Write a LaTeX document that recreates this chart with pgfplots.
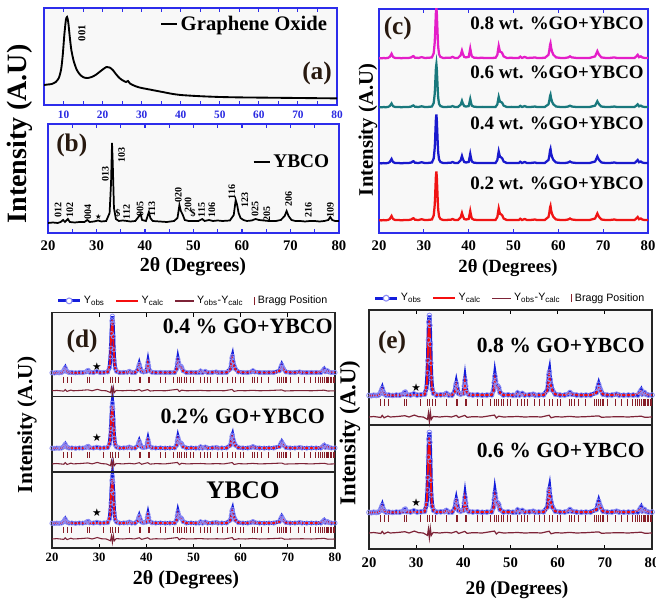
\documentclass[border=0pt]{standalone}
\usepackage{fontspec}
\setmainfont{Liberation Serif}
\setsansfont{Liberation Sans}
\newfontfamily\dejavu{DejaVu Sans}
\usepackage{pgfplots}
\usepackage{pgfplotstable}
\pgfplotsset{compat=1.18}

\definecolor{frameblue}{RGB}{45,45,235}
\definecolor{tickblue}{RGB}{40,40,225}
\definecolor{cmag}{RGB}{228,30,200}
\definecolor{cteal}{RGB}{25,120,125}
\definecolor{cblue}{RGB}{25,25,205}
\definecolor{cred}{RGB}{240,20,20}
\definecolor{obsc}{RGB}{20,30,220}
\definecolor{obsl}{RGB}{140,140,245}
\definecolor{calcc}{RGB}{245,15,15}
\definecolor{diffc}{RGB}{125,35,55}
\definecolor{braggc}{RGB}{135,30,40}
\definecolor{bgc}{RGB}{248,248,248}
\definecolor{lettc}{RGB}{40,25,15}

% Graphene oxide pattern (a) -- y in px above frame bottom
\pgfplotstableread{
x y
5 20
6 20.5
7 21
8 23
8.8 27
9.4 36
9.8 50
10.2 70
10.6 85
10.9 88
11.2 83
11.6 68
12.0 55
12.6 44
13.4 35
14.3 30
15.2 27.5
16.2 27
17.2 28
18.2 30
19.2 33
20.2 36
21.0 38
21.8 37.5
22.6 35
23.4 31
24.3 27
25.2 24.5
26.0 23
26.5 24
27.0 21.5
28.0 19.5
29.0 18
30.0 17
32.0 15.5
34.0 14
36.0 12.5
38.0 11
40.0 10
43.0 9.2
46.0 8.6
50.0 8
55.0 7.6
60.0 7.4
65.0 7.2
70.0 7
75.0 6.8
80.0 6.6
}\gotab

% YBCO pattern (b) -- y in px above frame bottom
\pgfplotstableread{
x y
20 10
21 10.5
22 10
22.6 11
23.1 13
23.5 11
24.1 14
24.5 11
25.5 10.5
26.5 11
27.5 11
28.1 13
28.6 11
29.5 11.5
30.3 12.5
31.0 11.5
32.0 12
32.7 20
33.0 50
33.2 90
33.35 70
33.6 25
34.0 14
34.6 12
35.4 12.5
36.3 12
37.0 11.5
38.0 12
38.8 17
39.1 19
39.4 13
40.2 12
40.8 21
41.1 15
41.6 12
43.0 11.5
44.5 11
46.0 12
46.7 15
47.1 28
47.4 22
47.8 18
48.2 13
49.0 12
50.0 12
51.0 12
51.8 14
52.3 12
53.2 13
54.0 12
55.0 12.5
56.0 12
57.5 12.5
58.3 18
58.7 33
59.0 28
59.3 20
59.7 15
60.3 13
61.0 12
62.0 12.5
62.8 14
63.5 13
64.5 12.5
65.5 12
67.0 12
68.0 13
68.8 17
69.2 22
69.6 17
70.2 13
71.0 12
72.0 12
73.0 11.5
74.0 12
75.0 12
76.0 11.5
77.0 12
77.8 13
78.2 16
78.6 13
79.2 12
80.0 12
}\ybtab

% normalised YBCO observed pattern (main peak = 100)
\pgfplotstableread{
x y
20.0 2.5
20.5 2.2
21.0 2.8
21.5 2.5
22.0 3
22.4 5
22.6 8
22.8 11
23.0 7
23.2 4.5
23.6 3
24.2 3
25.0 2.5
25.8 3
26.5 2.8
27.2 4
27.5 6
27.7 6.5
28.0 3.5
28.8 3
29.5 4.5
30.2 3
31.0 3.2
31.8 4
32.2 12
32.4 30
32.5 45
32.6 70
32.7 92
32.8 100
32.9 88
33.0 65
33.1 42
33.2 24
33.4 10
33.7 5
34.3 3
35.2 3.2
36.0 3.5
36.4 5
36.9 3
37.6 3
38.2 8
38.4 14
38.5 17
38.7 11
39.0 5
39.4 4
40.0 5
40.2 14
40.35 21
40.5 14
40.7 6
41.2 3.5
42.0 3
43.0 3.2
44.0 2.8
45.0 3
46.0 3.2
46.4 9
46.55 18
46.7 26
46.85 20
47.0 15
47.3 14
47.5 12
47.8 6
48.5 3
49.5 3.2
50.5 2.8
51.2 3
51.5 5.5
51.9 3
52.5 5
53.0 3
54.0 3.2
54.8 4
55.2 3
56.0 3
57.0 3.2
57.8 9
58.0 18
58.15 28
58.25 31
58.4 22
58.6 15
58.9 9
59.5 4
60.5 3
61.5 3
62.2 4
62.6 6
63.0 4
64.0 3
65.0 2.8
66.0 3
67.0 3
68.2 6
68.5 12
68.7 16
68.9 12
69.1 9
69.6 4
70.5 3
71.5 3
72.5 4
73.0 3
74.0 2.8
75.0 3
76.0 3
77.0 3
77.4 6
77.7 9
78.0 4.5
78.4 6
78.7 4
79.2 3
80.0 3
}\yobs

% calculated pattern (normalised)
\pgfplotstableread{
x y
20.0 2.3
21.0 2.4
22.0 2.6
22.4 4
22.8 9.5
23.2 4
23.6 3
24.2 2.8
25.0 2.6
26.5 2.7
27.2 3.5
27.6 5.5
28.0 3.3
29.5 3
31.0 3
31.8 3.5
32.3 18
32.6 78
32.8 94
33.0 58
33.3 14
33.7 5
34.3 3
36.0 3.2
36.4 4.5
36.9 3
37.6 3
38.2 6.5
38.5 15
38.8 7.5
39.4 3.8
40.0 4.5
40.3 19
40.6 7.5
41.2 3.4
43.0 3
45.0 3
46.0 3
46.4 7.5
46.7 22
47.0 13
47.4 12
47.8 5.5
48.5 3
50.5 2.8
51.5 4.8
51.9 3
52.5 4.5
53.0 3
54.8 3.7
55.2 3
57.0 3
57.8 7.5
58.2 27
58.5 16
58.9 8
59.5 3.8
61.5 3
62.6 5.5
63.0 3.8
65.0 2.8
67.0 3
68.2 5.5
68.7 14
69.1 8
69.6 3.8
71.5 3
72.5 3.6
74.0 2.8
76.0 3
77.4 5.5
77.7 7.5
78.0 4.2
78.4 5.5
78.7 3.8
80.0 3
}\ycalc

% difference curve
\pgfplotstableread{
x y
20 0
21 0.3
22.5 -0.3
22.8 1
23.2 -0.5
24 0.6
24.5 0
26 0.3
27.6 0.8
28.5 0
29.6 1.2
30.5 0.2
31.5 0
32.4 -1.5
32.6 2.5
32.8 -3
33.0 3
33.2 -1.5
33.6 0.3
35 0
36.4 0.4
37.5 0
38.5 1
39 -0.3
40.3 1
40.8 -0.2
42 0.2
44 0
46.6 1.2
47.0 -0.6
47.5 0.5
48.5 0
51.5 0.3
53 0
55 0.2
56.5 0
58.2 1.1
58.6 -0.5
59.5 0.2
61 0
62.5 0.4
64 0
66 0.2
68.7 0.7
69.3 -0.2
70.5 0
73 0.2
75 0
77.7 0.5
78.5 -0.2
80 0
}\ydiff

% Bragg positions (x) with zero offset column
\pgfplotstableread{
x y
22.5 0
23.2 0
24.2 0
27.6 0
27.9 0
30.9 0
32.5 0
32.8 0
33.4 0
34.0 0
36.4 0
38.5 0
38.7 0
40.4 0
40.6 0
42.9 0
44.0 0
45.7 0
46.6 0
47.1 0
47.5 0
48.0 0
48.6 0
49.3 0
49.9 0
51.4 0
52.4 0
52.9 0
53.5 0
55.0 0
56.1 0
57.1 0
58.2 0
58.8 0
59.9 0
60.5 0
62.4 0
62.9 0
63.5 0
64.5 0
65.8 0
67.7 0
68.3 0
68.7 0
69.0 0
69.4 0
69.8 0
70.5 0
72.2 0
73.6 0
74.7 0
75.8 0
76.4 0
77.0 0
77.4 0
77.8 0
78.1 0
78.4 0
78.7 0
79.0 0
79.3 0
79.6 0
79.9 0
}\bragg

\pgfplotsset{
  xrd/.style={
    scale only axis, anchor=south west,
    xmin=20, xmax=80, xtick={20,30,...,80},
    ytick=\empty,
    /pgf/number format/assume math mode=true,
    axis background/.style={fill=bgc},
    tick align=inside, major tick length=3pt,
    xticklabel style={font=\bfseries\fontsize{11}{11}\selectfont, text=black},
  },
  bluebox/.style={axis line style={frameblue, line width=1pt}, tick style={frameblue, line width=0.8pt}},
  blackbox/.style={axis line style={black!85, line width=1pt}, tick style={black, line width=0.8pt}},
  rietleg/.style={
    legend style={draw=none, fill=none, at={(0.5,1)}, anchor=south, yshift=1pt,
      legend columns=4, font=\sffamily\fontsize{8}{9}\selectfont,
      /tikz/every even column/.append style={column sep=6pt}},
  },
  obsm/.style={only marks, mark=o, mark size=1.6pt, obsl, mark options={line width=0.6pt}, forget plot},
  obsline/.style={obsc, line width=2.8pt, forget plot},
  calcline/.style={calcc, line width=1.3pt, forget plot},
  braggm/.style={only marks, mark=|, mark size=#1, braggc, mark options={line width=0.7pt}, forget plot},
  diffline/.style={diffc, line width=0.8pt, forget plot},
}

\newcommand{\obsimg}{\addlegendimage{legend image code/.code={\draw[obsc, line width=2.2pt] (0pt,0pt) -- (16pt,0pt); \draw[obsl, fill=white, line width=0.8pt] (8pt,0pt) circle (2.2pt);}}}
\newcommand{\calcimg}{\addlegendimage{legend image code/.code={\draw[calcc, line width=1.8pt] (0pt,0pt) -- (16pt,0pt);}}}
\newcommand{\diffimg}{\addlegendimage{legend image code/.code={\draw[diffc, line width=1pt] (0pt,0pt) -- (14pt,0pt);}}}
\newcommand{\braggimg}{\addlegendimage{legend image code/.code={\draw[braggc, line width=1pt] (4pt,-3pt) -- (4pt,3pt);}}}

\begin{document}
\begin{tikzpicture}
\path[use as bounding box] (0,0) rectangle (492pt,451.5pt);

% ---------- (a) ----------
\begin{axis}[xrd, bluebox, at={(33pt,372.75pt)}, width=219.75pt, height=72.75pt,
  xmin=5, xmax=80, xtick={10,20,...,80}, minor x tick num=1, ymin=0, ymax=97,
  xticklabel style={font=\bfseries\fontsize{8.5}{8.5}\selectfont, text=tickblue, yshift=-1pt},
  legend style={draw=none, fill=none, at={(0.99,0.83)}, anchor=east,
    font=\bfseries\fontsize{15.5}{16}\selectfont},
  legend image code/.code={\draw[black, line width=1.5pt] (0pt,0pt) -- (12pt,0pt);}]
\addplot[black, line width=1.4pt, smooth, tension=0.4] table {\gotab};
\addlegendentry{Graphene Oxide}
\node[font=\bfseries\fontsize{8}{8}\selectfont, rotate=90, anchor=west, inner sep=0.5pt] at (axis cs:14.7,63) {001};
\node[font=\bfseries\fontsize{19}{19}\selectfont, text=lettc] at (axis cs:74.9,32) {(a)};
\end{axis}

% ---------- (b) ----------
\begin{axis}[xrd, bluebox, at={(36pt,276.75pt)}, width=218.25pt, height=81.75pt,
  minor x tick num=1, ymin=0, ymax=109,
  xticklabel style={yshift=-2pt},
  legend style={draw=none, fill=none, at={(0.99,0.65)}, anchor=east,
    font=\bfseries\fontsize{14.5}{15}\selectfont},
  legend image code/.code={\draw[black, line width=1.5pt] (0pt,0pt) -- (12pt,0pt);}]
\addplot[black, line width=1.3pt] table {\ybtab};
\addlegendentry{YBCO}
\node[font=\bfseries\fontsize{19}{19}\selectfont, text=lettc] at (axis cs:24.9,88) {(b)};
\begin{scope}[every node/.style={font=\bfseries\fontsize{7.5}{7.5}\selectfont, rotate=90, anchor=west, inner sep=0.3pt}]
\node at (axis cs:22.1,15) {012};
\node at (axis cs:24.5,15) {102};
\node at (axis cs:28.2,13) {004};
\node at (axis cs:31.8,51) {013};
\node at (axis cs:35.2,70) {103};
\node at (axis cs:36.2,13) {112};
\node at (axis cs:39.0,16) {005};
\node at (axis cs:41.4,16) {113};
\node at (axis cs:46.9,30) {020};
\node at (axis cs:48.9,20) {200};
\node at (axis cs:51.7,15) {115};
\node at (axis cs:53.8,15) {106};
\node at (axis cs:57.9,33) {116};
\node at (axis cs:60.6,25) {123};
\node at (axis cs:62.7,16) {025};
\node at (axis cs:65.1,11) {205};
\node at (axis cs:69.6,26) {206};
\node at (axis cs:73.7,15) {216};
\node at (axis cs:78.2,15) {109};
\end{scope}
\node[font=\dejavu\fontsize{5.5}{5.5}\selectfont] at (axis cs:30.4,16) {★};
\node[font=\bfseries\fontsize{7.5}{7.5}\selectfont] at (axis cs:34.4,20) {\$};
\node[font=\bfseries\fontsize{7.5}{7.5}\selectfont] at (axis cs:49.9,20) {\$};
\end{axis}

\node[rotate=90, font=\bfseries\fontsize{21}{21}\selectfont] at (15pt,351pt) {Intensity (A.U)};
\node[font=\bfseries\fontsize{15}{15}\selectfont] at (144.75pt,251.25pt) {2θ (Degrees)};

% ---------- (c) ----------
\begin{axis}[xrd, bluebox, at={(284.25pt,276.75pt)}, width=201.75pt, height=168pt,
  ymin=0, ymax=224, xticklabel style={yshift=-2pt}]
\addplot[cred, line width=1.7pt] table[x index=0, y expr=\thisrowno{1}*0.5+11.5] {\yobs};
\addplot[cblue, line width=1.7pt] table[x index=0, y expr=\thisrowno{1}*0.5+68.5] {\yobs};
\addplot[cteal, line width=1.7pt] table[x index=0, y expr=\thisrowno{1}*0.44+124.7] {\yobs};
\addplot[cmag, line width=1.7pt] table[x index=0, y expr=\thisrowno{1}*0.52+173.5] {\yobs};
\node[font=\bfseries\fontsize{19}{19}\selectfont, text=lettc] at (axis cs:24.2,205) {(c)};
\begin{scope}[every node/.style={font=\bfseries\fontsize{14.2}{14.2}\selectfont, anchor=east, inner sep=0pt}]
\node at (rel axis cs:0.985,0.9375) {0.8 wt. \%GO+YBCO};
\node at (rel axis cs:0.985,0.7188) {0.6 wt. \%GO+YBCO};
\node at (rel axis cs:0.985,0.491) {0.4 wt. \%GO+YBCO};
\node at (rel axis cs:0.985,0.2232) {0.2 wt. \%GO+YBCO};
\end{scope}
\end{axis}

\node[rotate=90, font=\bfseries\fontsize{15.5}{15.5}\selectfont] at (276pt,354pt) {Intensity (A.U)};
\node[font=\bfseries\fontsize{14}{14}\selectfont] at (381pt,250.5pt) {2θ (Degrees)};

% ---------- (d) ----------
\begin{axis}[xrd, blackbox, rietleg, at={(39pt,40.5pt)}, width=212.25pt, height=176.25pt,
  ymin=0, ymax=235,
  xticklabel style={font=\bfseries\fontsize{9.5}{9.5}\selectfont}]
\obsimg \addlegendentry{Y\textsubscript{obs}}
\calcimg \addlegendentry{Y\textsubscript{calc}}
\diffimg \addlegendentry{Y\textsubscript{obs}-Y\textsubscript{calc}}
\braggimg \addlegendentry{Bragg Position}
% bottom: YBCO
\addplot[obsm] table[x index=0, y expr=\thisrowno{1}*0.48+23.5] {\yobs};
\addplot[obsline] table[x index=0, y expr=\thisrowno{1}*0.48+23.5] {\yobs};
\addplot[calcline] table[x index=0, y expr=\thisrowno{1}*0.48+23.5] {\ycalc};
\addplot[braggm=2.3pt] table[x index=0, y expr=\thisrowno{1}+18] {\bragg};
\addplot[diffline] table[x index=0, y expr=\thisrowno{1}*1.2+9] {\ydiff};
% middle: 0.2
\addplot[obsm] table[x index=0, y expr=\thisrowno{1}*0.46+98.5] {\yobs};
\addplot[obsline] table[x index=0, y expr=\thisrowno{1}*0.46+98.5] {\yobs};
\addplot[calcline] table[x index=0, y expr=\thisrowno{1}*0.46+98.5] {\ycalc};
\addplot[braggm=2.3pt] table[x index=0, y expr=\thisrowno{1}+93] {\bragg};
\addplot[diffline] table[x index=0, y expr=\thisrowno{1}*1.2+84] {\ydiff};
% top: 0.4
\addplot[obsm] table[x index=0, y expr=\thisrowno{1}*0.58+173.5] {\yobs};
\addplot[obsline] table[x index=0, y expr=\thisrowno{1}*0.58+173.5] {\yobs};
\addplot[calcline] table[x index=0, y expr=\thisrowno{1}*0.58+173.5] {\ycalc};
\addplot[braggm=2.3pt] table[x index=0, y expr=\thisrowno{1}+168] {\bragg};
\addplot[diffline] table[x index=0, y expr=\thisrowno{1}*1.2+157] {\ydiff};
\draw[black!85, line width=1pt] (axis cs:20,76) -- (axis cs:80,76);
\draw[black!85, line width=1pt] (axis cs:20,151) -- (axis cs:80,151);
\node[font=\bfseries\fontsize{19}{19}\selectfont, text=lettc] at (axis cs:26.4,206) {(d)};
\node[font=\bfseries\fontsize{16.4}{16.4}\selectfont, anchor=east, inner sep=0pt] at (rel axis cs:0.993,0.9404) {0.4 \% GO+YBCO};
\node[font=\bfseries\fontsize{16.4}{16.4}\selectfont, anchor=east, inner sep=0pt] at (rel axis cs:0.965,0.5574) {0.2\% GO+YBCO};
\node[font=\bfseries\fontsize{19}{19}\selectfont] at (axis cs:60.5,58) {YBCO};
\node[font=\dejavu\fontsize{8}{8}\selectfont] at (axis cs:29.5,181) {★};
\node[font=\dejavu\fontsize{8}{8}\selectfont] at (axis cs:29.5,110) {★};
\node[font=\dejavu\fontsize{8}{8}\selectfont] at (axis cs:29.5,35) {★};
\end{axis}

\node[rotate=90, font=\bfseries\fontsize{16}{16}\selectfont] at (20.25pt,132.75pt) {Intensity (A.U)};
\node[font=\bfseries\fontsize{15}{15}\selectfont] at (139.5pt,16.5pt) {2θ (Degrees)};

% ---------- (e) ----------
\begin{axis}[xrd, blackbox, rietleg, at={(276.75pt,39.75pt)}, width=212.25pt, height=179.25pt,
  ymin=0, ymax=239, xticklabel style={yshift=-3pt}]
\obsimg \addlegendentry{Y\textsubscript{obs}}
\calcimg \addlegendentry{Y\textsubscript{calc}}
\diffimg \addlegendentry{Y\textsubscript{obs}-Y\textsubscript{calc}}
\braggimg \addlegendentry{Bragg Position}
% bottom: 0.6
\addplot[obsm, mark size=1.8pt] table[x index=0, y expr=\thisrowno{1}*0.82+34.5] {\yobs};
\addplot[obsline, line width=3pt] table[x index=0, y expr=\thisrowno{1}*0.82+34.5] {\yobs};
\addplot[calcline, line width=1.4pt] table[x index=0, y expr=\thisrowno{1}*0.82+34.5] {\ycalc};
\addplot[braggm=2.6pt] table[x index=0, y expr=\thisrowno{1}+30.5] {\bragg};
\addplot[diffline, line width=0.9pt] table[x index=0, y expr=\thisrowno{1}*1.6+16] {\ydiff};
% top: 0.8
\addplot[obsm, mark size=1.8pt] table[x index=0, y expr=\thisrowno{1}*0.82+151.5] {\yobs};
\addplot[obsline, line width=3pt] table[x index=0, y expr=\thisrowno{1}*0.82+151.5] {\yobs};
\addplot[calcline, line width=1.4pt] table[x index=0, y expr=\thisrowno{1}*0.82+151.5] {\ycalc};
\addplot[braggm=2.6pt] table[x index=0, y expr=\thisrowno{1}+146.5] {\bragg};
\addplot[diffline, line width=0.9pt] table[x index=0, y expr=\thisrowno{1}*1.6+132] {\ydiff};
\draw[black!85, line width=1pt] (axis cs:20,124) -- (axis cs:80,124);
\node[font=\bfseries\fontsize{19}{19}\selectfont, text=lettc] at (axis cs:24.9,207) {(e)};
\node[font=\bfseries\fontsize{16.2}{16.2}\selectfont, anchor=east, inner sep=0pt] at (rel axis cs:0.975,0.8536) {0.8 \% GO+YBCO};
\node[font=\bfseries\fontsize{16.2}{16.2}\selectfont, anchor=east, inner sep=0pt] at (rel axis cs:0.975,0.4142) {0.6 \% GO+YBCO};
\node[font=\dejavu\fontsize{8}{8}\selectfont] at (axis cs:30,161) {★};
\node[font=\dejavu\fontsize{8}{8}\selectfont] at (axis cs:30,46) {★};
\end{axis}

\node[rotate=90, font=\bfseries\fontsize{17}{17}\selectfont] at (262.5pt,126.75pt) {Intensity (A.U)};
\node[font=\bfseries\fontsize{14.5}{14.5}\selectfont] at (387.75pt,9pt) {2θ (Degrees)};

\end{tikzpicture}
\end{document}
